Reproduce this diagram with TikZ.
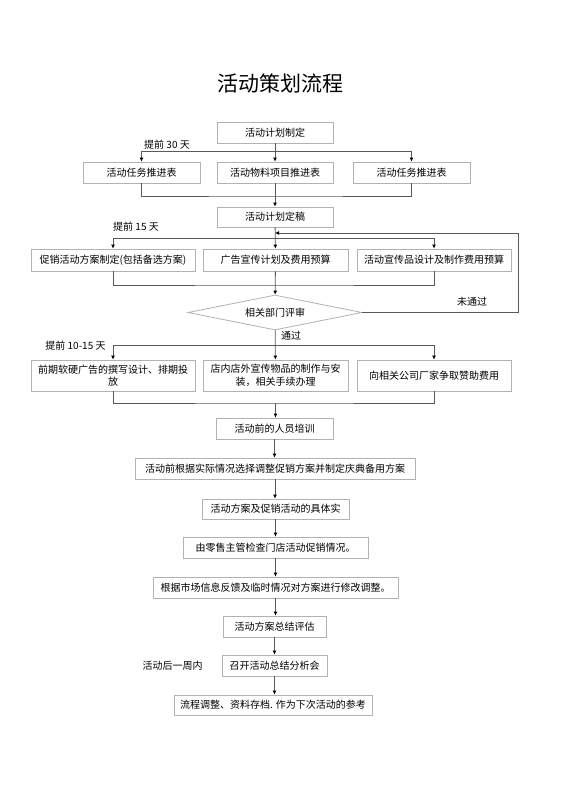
\documentclass[tikz,border=0pt]{standalone}
\usepackage{fontspec}
\setmainfont{Noto Sans CJK SC}
\usetikzlibrary{shapes.geometric,arrows.meta}

\begin{document}
\begin{tikzpicture}[x=1pt,y=-1pt,
    caja/.style={draw=gray!60, line width=0.8pt, fill=white, inner sep=1pt,
      minimum height=21pt, align=center, font=\fontsize{10}{12.5}\selectfont},
    rombo/.style={diamond, draw=gray!60, line width=0.8pt, fill=white, inner sep=0pt,
      aspect=4.97, minimum width=174pt, minimum height=35pt, font=\fontsize{10}{12}\selectfont},
    nota/.style={inner sep=0pt, font=\fontsize{10}{12}\selectfont},
    linea/.style={draw=black!65, line width=0.8pt},
    >={Latex[color=black,length=4pt,width=4pt]}]
    \useasboundingbox (0,0) rectangle (560,792);

    % Dibuja el titulo
    \node[inner sep=0pt, font=\fontsize{21}{25}\selectfont] (titulo) at (280,83) {活动策划流程};

    % Dibuja las cajas de la parte de arriba
    \node[caja, minimum width=116pt] (plan) at (275,132.5) {活动计划制定};
    \node[caja, minimum width=117pt] (tabla1) at (141.5,172.5) {活动任务推进表};
    \node[caja, minimum width=116pt] (tabla2) at (275,172.5) {活动物料项目推进表};
    \node[caja, minimum width=117pt] (tabla3) at (411.5,172.5) {活动任务推进表};
    \node[caja, minimum width=116pt, minimum height=20pt] (final) at (275,217) {活动计划定稿};
    \node[caja, minimum width=164pt, minimum height=22pt] (prop1) at (113,260) {促销活动方案制定(包括备选方案)};
    \node[caja, minimum width=145pt, minimum height=22pt] (prop2) at (275.5,260) {广告宣传计划及费用预算};
    \node[caja, minimum width=154pt, minimum height=22pt] (prop3) at (434,260) {活动宣传品设计及制作费用预算};
    \node[rombo] (revision) at (275,312.5) {相关部门评审};

    % Dibuja las cajas de dos lineas
    \node[caja, minimum width=164pt, minimum height=31pt] (prep1) at (113,375.5) {前期软硬广告的撰写设计、排期投\\放};
    \node[caja, minimum width=145pt, minimum height=31pt] (prep2) at (275.5,375.5) {店内店外宣传物品的制作与安\\装，相关手续办理};
    \node[caja, minimum width=154pt, minimum height=31pt] (prep3) at (434,375.5) {向相关公司厂家争取赞助费用};

    % Dibuja la cadena de abajo
    \node[caja, minimum width=117pt] (formacion) at (274.5,428.5) {活动前的人员培训};
    \node[caja, minimum width=280pt] (ajuste) at (275,468.5) {活动前根据实际情况选择调整促销方案并制定庆典备用方案};
    \node[caja, minimum width=147pt, minimum height=20pt] (ejecucion) at (275.5,509) {活动方案及促销活动的具体实};
    \node[caja, minimum width=185pt] (control) at (275.5,547.5) {由零售主管检查门店活动促销情况。};
    \node[caja, minimum width=245pt] (cambio) at (275.5,587.5) {根据市场信息反馈及临时情况对方案进行修改调整。};
    \node[caja, minimum width=103pt] (resumen) at (274.5,626.5) {活动方案总结评估};
    \node[caja, minimum width=105pt] (reunion) at (274.5,665.5) {召开活动总结分析会};
    \node[caja, minimum width=198pt, minimum height=20pt] (archivo) at (273,705) {流程调整、资料存档. 作为下次活动的参考};

    % Dibuja las notas
    \node[nota] (nota30) at (167,145) {提前 30 天};
    \node[nota] (nota15) at (136,227) {提前 15 天};
    \node[nota] (notano) at (472,302) {未通过};
    \node[nota] (notasi) at (291,336) {通过};
    \node[nota] (nota10) at (75.5,346) {提前 10-15 天};
    \node[nota] (notasem) at (172.5,666) {活动后一周内};

    % Dibuja el reparto y la union del primer nivel
    \coordinate (rep1) at (275,151);
    \coordinate (uni1) at (275,196);
    \draw[linea,->] (plan) -- (tabla2);
    \draw[linea,->] (rep1) -| (tabla1.north);
    \draw[linea,->] (rep1) -| (tabla3.north);
    \draw[linea] (tabla1.south) |- (uni1) -| (tabla3.south);
    \draw[linea,->] (tabla2) -- (final);

    % Dibuja el reparto y la union del segundo nivel
    \coordinate (rep2) at (275,238);
    \coordinate (uni2) at (275,285);
    \draw[linea,->] (final) -- (prop2);
    \draw[linea,->] (rep2) -| (prop1.north);
    \draw[linea,->] (rep2) -| (prop3.north);
    \draw[linea] (prop1.south) |- (uni2) -| (prop3.south);
    \draw[linea,->] (prop2) -- (revision);

    % Dibuja la vuelta cuando no pasa
    \coordinate (vuelta1) at (518,233);
    \coordinate (vuelta2) at (275,233);
    \draw[linea,->] (revision.east) -| (vuelta1) -- (vuelta2);

    % Dibuja el reparto y la union del tercer nivel
    \coordinate (rep3) at (275,345);
    \coordinate (uni3) at (275,403);
    \draw[linea,->] (revision) -- (prep2);
    \draw[linea,->] (rep3) -| (prep1.north);
    \draw[linea,->] (rep3) -| (prep3.north);
    \draw[linea] (prep1.south) |- (uni3) -| (prep3.south);
    \draw[linea,->] (prep2.south |- uni3) -- (prep2.south |- formacion.north);

    % Dibuja las flechas de la cadena
    \foreach \a/\b in {formacion/ajuste, ajuste/ejecucion, ejecucion/control, control/cambio,
                       cambio/resumen, resumen/reunion, reunion/archivo}
        \draw[linea,->] (\a.south) -- (\a.south |- \b.north);
\end{tikzpicture}
\end{document}
